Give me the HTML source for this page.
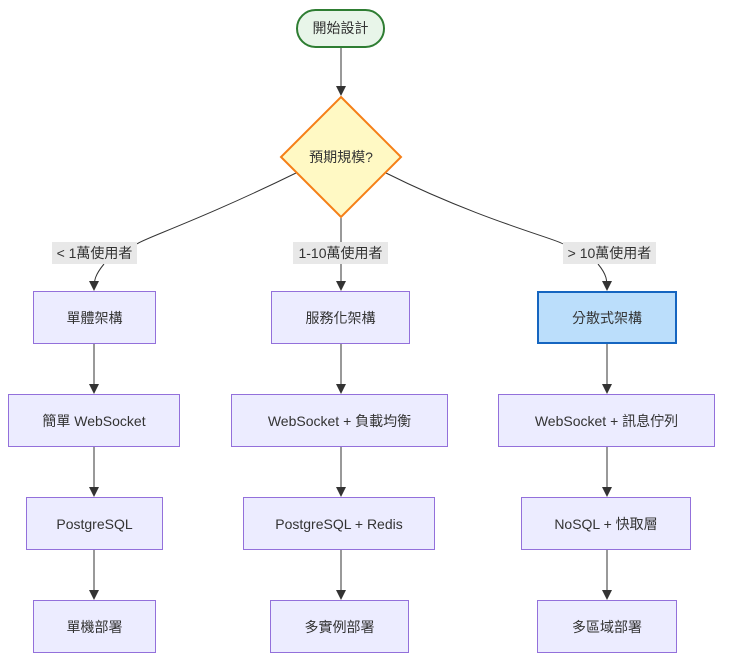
<!DOCTYPE html>
<html><head><meta charset="utf-8"><style>
body{margin:0;background:#fff;width:731px;height:669px;overflow:hidden;position:relative;font-family:"Liberation Sans","Noto Sans CJK TC",sans-serif;font-size:14px;color:#333}
.b{position:absolute;box-sizing:border-box;background:#ececff;border:1px solid #9370db;display:flex;align-items:center;justify-content:center}
.l{position:absolute;background:#e8e8e8;display:flex;align-items:center;justify-content:center;height:22px;top:242px}
svg{position:absolute;left:0;top:0}
</style></head><body>
<svg width="731" height="669">
<defs><marker id="a" markerWidth="10" markerHeight="10" refX="9" refY="5" orient="auto" markerUnits="userSpaceOnUse"><path d="M0,0L10,5L0,10z" fill="#333"/></marker></defs>
<g stroke="#333" fill="none" stroke-width="1">
<path d="M341,47V95" marker-end="url(#a)"/>
<path d="M296,173 C200,220 140,240 137,244"/>
<path d="M386,173 C480,220 560,240 563,244"/>
<path d="M341,218V242"/>
<path d="M104,264 C95,275 94,280 94,290" marker-end="url(#a)"/>
<path d="M341,264V290" marker-end="url(#a)"/>
<path d="M598,264 C607,275 607,280 607,290" marker-end="url(#a)"/>
<path d="M94,344V393" marker-end="url(#a)"/><path d="M341,344V393" marker-end="url(#a)"/><path d="M607,344V393" marker-end="url(#a)"/>
<path d="M94,447V496" marker-end="url(#a)"/><path d="M341,447V496" marker-end="url(#a)"/><path d="M607,447V496" marker-end="url(#a)"/>
<path d="M94,550V599" marker-end="url(#a)"/><path d="M341,550V599" marker-end="url(#a)"/><path d="M607,550V599" marker-end="url(#a)"/>
</g>
<rect x="297" y="10" width="87" height="37" rx="18.5" fill="#e8f5e9" stroke="#2e7d32" stroke-width="2"/>
<text x="340.5" y="33" font-size="14" text-anchor="middle" fill="#333" font-family="Liberation Sans,Noto Sans CJK TC,sans-serif">開始設計</text>
<polygon points="341,97 401,157 341,217 281,157" fill="#fff9c4" stroke="#f57f17" stroke-width="2"/>
<text x="341" y="162" font-size="14" text-anchor="middle" fill="#333" font-family="Liberation Sans,Noto Sans CJK TC,sans-serif">預期規模?</text>
</svg>
<div class="l" style="left:52px;width:85px">&lt; 1萬使用者</div>
<div class="l" style="left:293px;width:95px">1-10萬使用者</div>
<div class="l" style="left:563px;width:93px">&gt; 10萬使用者</div>
<div class="b" style="left:33px;top:291px;width:123px;height:53px">單體架構</div>
<div class="b" style="left:271px;top:291px;width:139px;height:53px">服務化架構</div>
<div class="b" style="left:537px;top:291px;width:140px;height:53px;background:#bbdefb;border:2px solid #1565c0">分散式架構</div>
<div class="b" style="left:8px;top:394px;width:172px;height:53px">簡單 WebSocket</div>
<div class="b" style="left:231px;top:394px;width:217px;height:53px">WebSocket + 負載均衡</div>
<div class="b" style="left:498px;top:394px;width:217px;height:53px">WebSocket + 訊息佇列</div>
<div class="b" style="left:26px;top:497px;width:137px;height:53px">PostgreSQL</div>
<div class="b" style="left:243px;top:497px;width:192px;height:53px">PostgreSQL + Redis</div>
<div class="b" style="left:521px;top:497px;width:170px;height:53px">NoSQL + 快取層</div>
<div class="b" style="left:33px;top:600px;width:123px;height:53px">單機部署</div>
<div class="b" style="left:270px;top:600px;width:139px;height:53px">多實例部署</div>
<div class="b" style="left:537px;top:600px;width:140px;height:53px">多區域部署</div>
</body></html>
